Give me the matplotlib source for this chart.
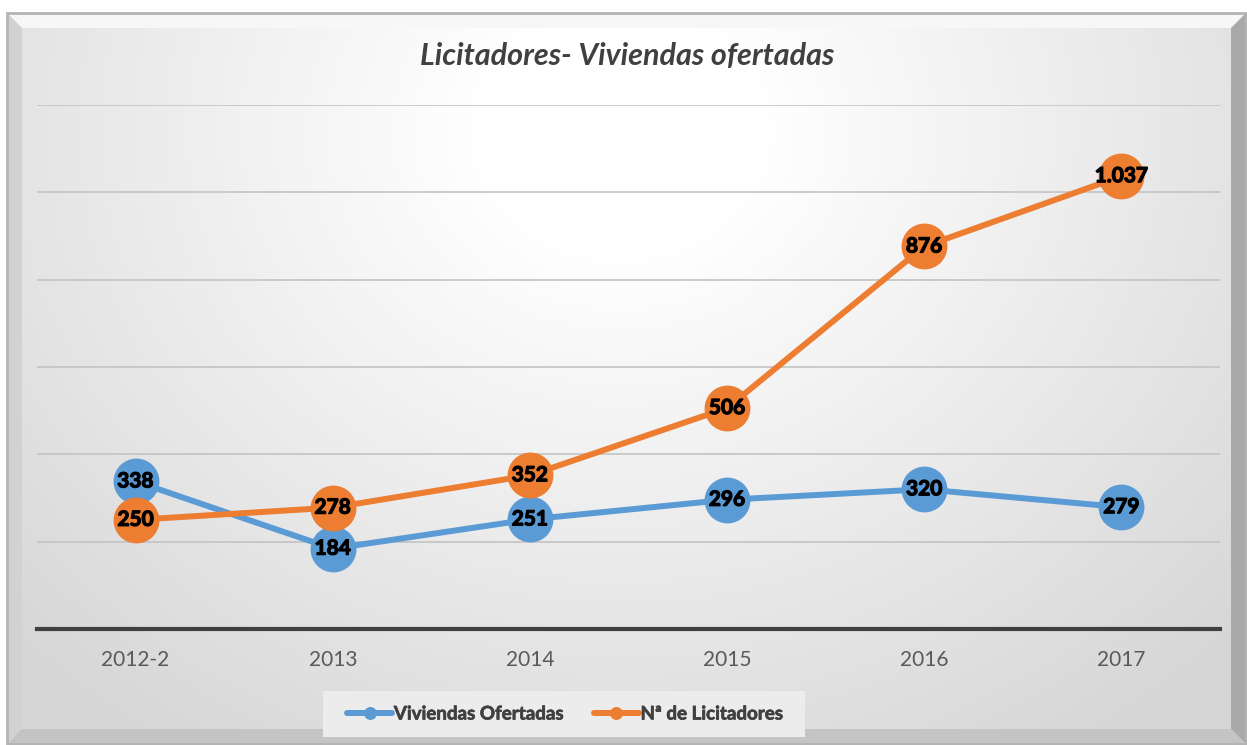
import numpy as np
import matplotlib
matplotlib.use("Agg")
import matplotlib.pyplot as plt
import matplotlib.patheffects as pe
from matplotlib.patches import Polygon

# data
years = ["2012-2", "2013", "2014", "2015", "2016", "2017"]
viviendas = [338, 184, 251, 296, 320, 279]
licitadores = [250, 278, 352, 506, 876, 1037]
viviendas_lbl = ["338", "184", "251", "296", "320", "279"]
licitadores_lbl = ["250", "278", "352", "506", "876", "1.037"]

blue = "#5B9BD5"
orange = "#ED7D31"

plt.rcParams['font.family'] = ['Lato', 'DejaVu Sans']

W, H = 1247, 745
fig = plt.figure(figsize=(W / 100, H / 100), dpi=100)

# background: radial gradient + bevelled frame, in pixel coords
bg = fig.add_axes([0, 0, 1, 1])
bg.set_xlim(0, W)
bg.set_ylim(H, 0)
bg.axis("off")
yy, xx = np.mgrid[0:H, 0:W]
r = np.sqrt(((xx - 620) / 1.15) ** 2 + (yy - 130) ** 2)
v = 1.0 - 0.16 * np.clip((r - 120) / 620, 0, 1)
img = np.dstack([v, v, v])
bg.imshow(img, extent=(0, W, H, 0), aspect="auto", zorder=0)
# white outside the frame
bg.add_patch(plt.Rectangle((0, 0), W, 13, color="white", zorder=1))
bg.add_patch(plt.Rectangle((0, 0), 7, H, color="white", zorder=1))
o = (7, 13, 1246, 744)
b = 15
bg.add_patch(Polygon([(o[0], o[1]), (o[2], o[1]), (o[2] - b, o[1] + b), (o[0] + b, o[1] + b)],
                     closed=True, fc="#f7f7f7", ec="none", zorder=2))
bg.add_patch(Polygon([(o[0], o[1]), (o[0] + b, o[1] + b), (o[0] + b, o[3] - b), (o[0], o[3])],
                     closed=True, fc="#d2d2d2", ec="none", zorder=2))
bg.add_patch(Polygon([(o[2], o[1]), (o[2], o[3]), (o[2] - b, o[3] - b), (o[2] - b, o[1] + b)],
                     closed=True, fc="#a9a9a9", ec="none", zorder=2))
bg.add_patch(Polygon([(o[0], o[3]), (o[0] + b, o[3] - b), (o[2] - b, o[3] - b), (o[2], o[3])],
                     closed=True, fc="#c4c4c4", ec="none", zorder=2))
bg.add_patch(plt.Rectangle((o[0], o[1]), o[2] - o[0], o[3] - o[1], fill=False,
                           ec="#b4b4b4", lw=2, zorder=3))
# legend panel
bg.add_patch(plt.Rectangle((323, 691), 482, 46, fc="#ececec", ec="none", zorder=3))

# chart
ax = fig.add_axes([37 / W, (H - 629) / H, 1183 / W, (629 - 105) / H])
ax.patch.set_alpha(0)
x = np.arange(len(years))
ax.plot(x, viviendas, color=blue, lw=4.3, marker="o", ms=32, mec=blue,
        label="Viviendas Ofertadas", zorder=3, solid_capstyle="round")
ax.plot(x, licitadores, color=orange, lw=4.3, marker="o", ms=32, mec=orange,
        label="Nª de Licitadores", zorder=4, solid_capstyle="round")
heavy = [pe.withStroke(linewidth=0.9, foreground="black")]
for xi, yi, t in zip(x, viviendas, viviendas_lbl):
    ax.text(xi, yi, t, ha="center", va="center", fontsize=15, fontweight="bold",
            color="black", zorder=6, path_effects=heavy)
for xi, yi, t in zip(x, licitadores, licitadores_lbl):
    ax.text(xi, yi, t, ha="center", va="center", fontsize=15, fontweight="bold",
            color="black", zorder=6, path_effects=heavy)

ax.set_xlim(-0.5, len(years) - 0.5)
ax.set_ylim(0, 1200)
ax.set_yticks(range(200, 1201, 200))
ax.yaxis.grid(True, color="#c3c3c3", lw=1.2)
ax.set_axisbelow(True)
ax.tick_params(axis="y", left=False, labelleft=False)
ax.set_xticks(x)
ax.set_xticklabels(years, fontsize=15, color="#595959")
ax.tick_params(axis="x", length=0, pad=15)
for s in ["top", "right", "left"]:
    ax.spines[s].set_visible(False)
ax.spines["bottom"].set_color("#404040")
ax.spines["bottom"].set_linewidth(3)

fig.text(627 / W, (H - 56) / H, "Licitadores- Viviendas ofertadas", ha="center", va="center",
         fontsize=22, fontweight="bold", fontstyle="italic", color="#404040")

leg = ax.legend(loc="center", bbox_to_anchor=(565 / W, (H - 714) / H),
                bbox_transform=fig.transFigure, ncol=2, frameon=False,
                markerscale=0.26, handlelength=2.4, handletextpad=0.1,
                columnspacing=1.6, borderpad=0.5,
                prop={"size": 13.5, "weight": "bold"})
for t in leg.get_texts():
    t.set_color("#404040")
    t.set_path_effects([pe.withStroke(linewidth=0.5, foreground="#404040")])

fig.savefig("out.png", dpi=100)
